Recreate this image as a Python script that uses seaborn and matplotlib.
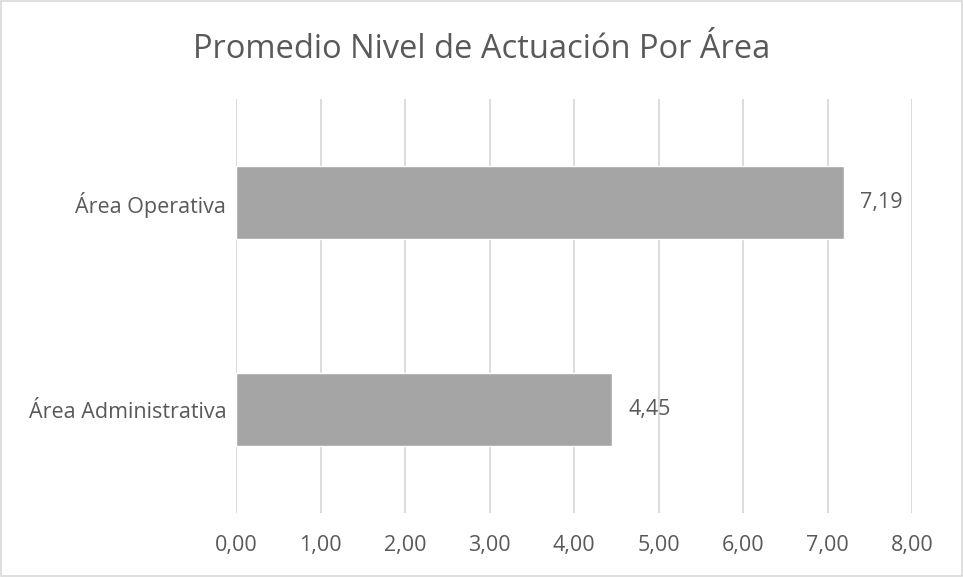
import matplotlib
matplotlib.use("Agg")
import matplotlib.pyplot as plt
import seaborn as sns
import pandas as pd

# Average performance level per area
areas = ["Área Operativa", "Área Administrativa"]
promedios = [7.19, 4.45]
x_ticks = [0, 1, 2, 3, 4, 5, 6, 7, 8]
titulo = "Promedio Nivel de Actuación Por Área"

TEXT = "#595959"
GRID = "#d9d9d9"
BAR = "#a5a5a5"

sns.set_theme(style="white")
plt.rcParams["font.family"] = ["Open Sans", "DejaVu Sans"]

df = pd.DataFrame({"area": areas, "promedio": promedios})

fig = plt.figure(figsize=(9.63, 5.77), dpi=100)
ax = fig.add_axes([236 / 963, 1 - 513 / 577, (912.3 - 236) / 963, (513 - 99) / 577])

sns.barplot(data=df, x="promedio", y="area", order=areas, orient="h",
            color=BAR, saturation=1, width=0.355, ax=ax, zorder=2)

ax.set_xlim(0, 8)
ax.set_ylim(1.5, -0.5)
ax.set_xticks(x_ticks)
ax.set_xticklabels([f"{v:.2f}".replace(".", ",") for v in x_ticks])
ax.grid(axis="x", color=GRID, linewidth=1.3, zorder=0)
ax.grid(axis="y", visible=False)
ax.set_axisbelow(True)
for s in ax.spines.values():
    s.set_visible(False)
ax.tick_params(axis="x", length=0, labelsize=15.5, colors=TEXT, pad=16)
ax.tick_params(axis="y", length=0, labelsize=15.5, colors=TEXT, pad=7)
ax.set_xlabel("")
ax.set_ylabel("")

for i, v in enumerate(promedios):
    ax.annotate(f"{v:.2f}".replace(".", ","), xy=(v, i), xytext=(12, 0),
                textcoords="offset points", va="center", ha="left",
                fontsize=15.5, color=TEXT)

fig.text(0.5, 1 - 49 / 577, titulo, ha="center", va="center",
         fontsize=23.5, color=TEXT)

# thin outer frame
fig.patches.append(plt.Rectangle((0.0008, 0.0012), 0.9984, 0.9976,
                                 transform=fig.transFigure, fill=False,
                                 edgecolor=GRID, linewidth=1.2))

fig.savefig("out.png", dpi=100)
